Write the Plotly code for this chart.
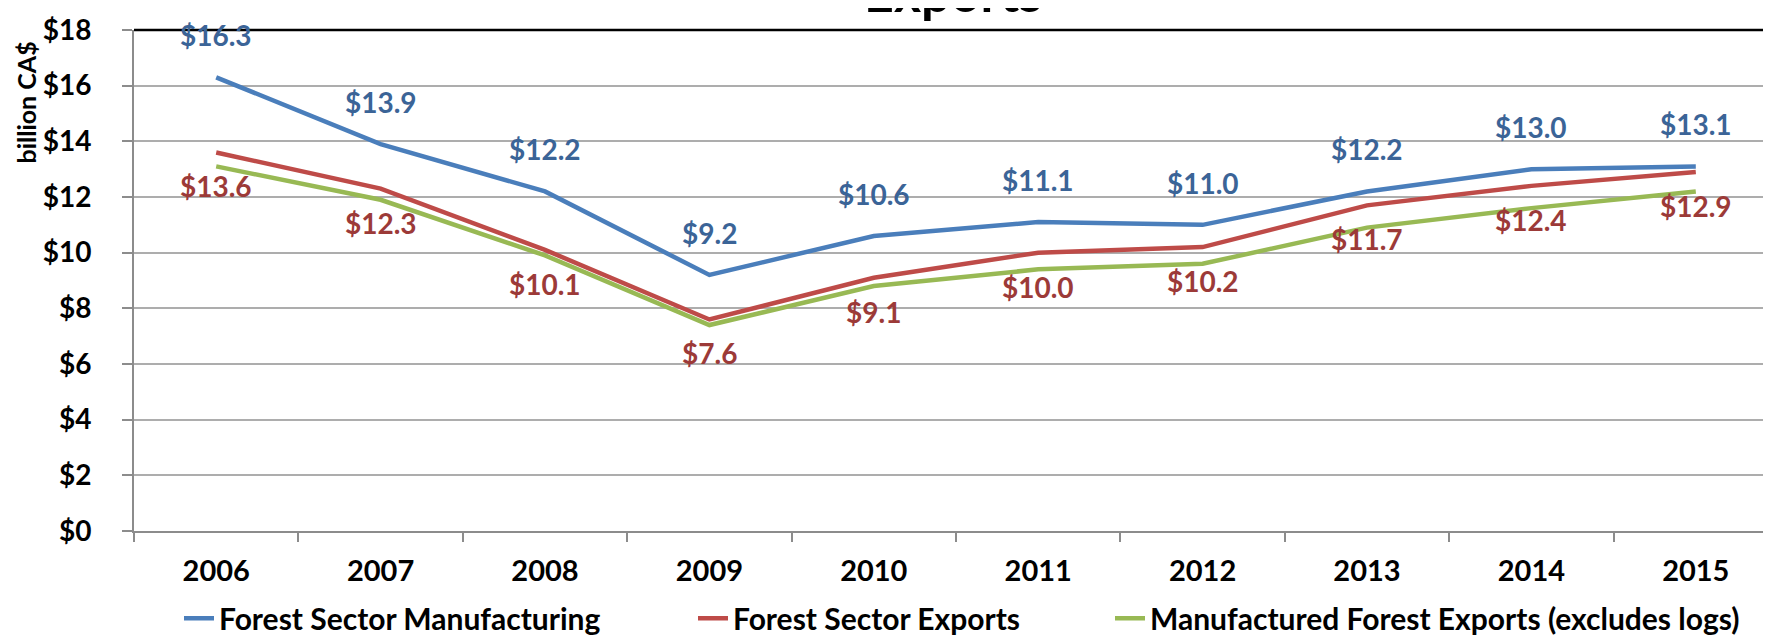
import plotly.graph_objects as go

years = ["2006", "2007", "2008", "2009", "2010", "2011", "2012", "2013", "2014", "2015"]
manufacturing = [16.3, 13.9, 12.2, 9.2, 10.6, 11.1, 11.0, 12.2, 13.0, 13.1]
sector_exports = [13.6, 12.3, 10.1, 7.6, 9.1, 10.0, 10.2, 11.7, 12.4, 12.9]
manufactured_exports = [13.1, 11.9, 9.9, 7.4, 8.8, 9.4, 9.6, 10.9, 11.6, 12.2]

series_names = ["Forest Sector Manufacturing", "Forest Sector Exports",
                "Manufactured Forest Exports (excludes logs)"]
line_colors = ["#4A7EBB", "#BE4B48", "#98B954"]
label_colors = ["#3B6497", "#9C3A38"]

FONT = "Lato"
W, H = 1771, 637
ML, MR, MT, MB = 126, 1, 22, 104
PW = W - ML - MR
PH = H - MT - MB

fig = go.Figure()
legends = ["legend", "legend2", "legend3"]
for name, vals, col, lg in zip(series_names,
                               [manufacturing, sector_exports, manufactured_exports],
                               line_colors, legends):
    fig.add_trace(go.Scatter(x=years, y=vals, mode="lines", name=name,
                             line=dict(color=col, width=4.5),
                             legend=lg, hoverinfo="skip"))

annotations = []
for i, v in enumerate(manufacturing):
    annotations.append(dict(x=i, y=v, xref="x", yref="y", text=f"${v:.1f}", showarrow=False,
                            yshift=42, xanchor="center", yanchor="middle",
                            font=dict(family=FONT, size=28, color=label_colors[0], weight="bold")))
for i, v in enumerate(sector_exports):
    annotations.append(dict(x=i, y=v, xref="x", yref="y", text=f"${v:.1f}", showarrow=False,
                            yshift=-34, xanchor="center", yanchor="middle",
                            font=dict(family=FONT, size=28, color=label_colors[1], weight="bold")))

# y-axis title
annotations.append(dict(xref="paper", yref="paper", x=(18 - ML) / PW, y=(MT + PH - 96) / PH,
                        xanchor="center", yanchor="middle",
                        text="billion CA$", textangle=-90, showarrow=False,
                        font=dict(family=FONT, size=25, color="#000000", weight="bold")))
# chart title (mostly cut off at the top)
annotations.append(dict(xref="paper", yref="paper", x=(945 - ML) / PW, y=1, yanchor="bottom",
                        xanchor="center", yshift=5, text="Exports", showarrow=False,
                        font=dict(family=FONT, size=52, color="#000000", weight="bold")))

legend_font = dict(family=FONT, size=30, color="#000000", weight="bold")
legend_y = (MT + PH - 622) / PH
def leg(xpx):
    return dict(x=(xpx - ML) / PW, y=legend_y, xanchor="left", yanchor="middle",
                orientation="h", font=legend_font, bgcolor="rgba(0,0,0,0)",
                borderwidth=0, tracegroupgap=0)

fig.update_layout(
    width=W, height=H,
    margin=dict(l=ML, r=MR, t=MT, b=MB, pad=0),
    paper_bgcolor="white", plot_bgcolor="white",
    showlegend=True,
    legend=leg(171), legend2=leg(685), legend3=leg(1102),
    annotations=annotations,
    xaxis=dict(type="category", range=[-0.5, len(years) - 0.5], showgrid=False, showline=True,
               linecolor="#8C8C8C", linewidth=2,
               ticks="outside", tickson="boundaries", ticklen=9, tickwidth=2, tickcolor="#8C8C8C",
               tickfont=dict(family=FONT, size=29, color="#000000", weight="bold"),
               tickangle=0, ticklabelstandoff=13, zeroline=False),
    yaxis=dict(range=[0, 18], dtick=2, tickprefix="$", showgrid=True, gridcolor="#ADADAD",
               gridwidth=1.5, showline=True, linecolor="#8C8C8C", linewidth=2,
               ticks="outside", ticklen=10, tickwidth=2, tickcolor="#8C8C8C",
               tickfont=dict(family=FONT, size=28, color="#000000", weight="bold"),
               ticklabelstandoff=25, zeroline=False),
    shapes=[
        dict(type="line", xref="paper", yref="paper", x0=0, x1=1, y0=1, y1=1,
             line=dict(color="#000000", width=2.5)),
        dict(type="line", xref="paper", yref="paper", x0=1, x1=1, y0=0, y1=1,
             line=dict(color="#333333", width=2)),
    ],
)

fig.write_html("out.html")
